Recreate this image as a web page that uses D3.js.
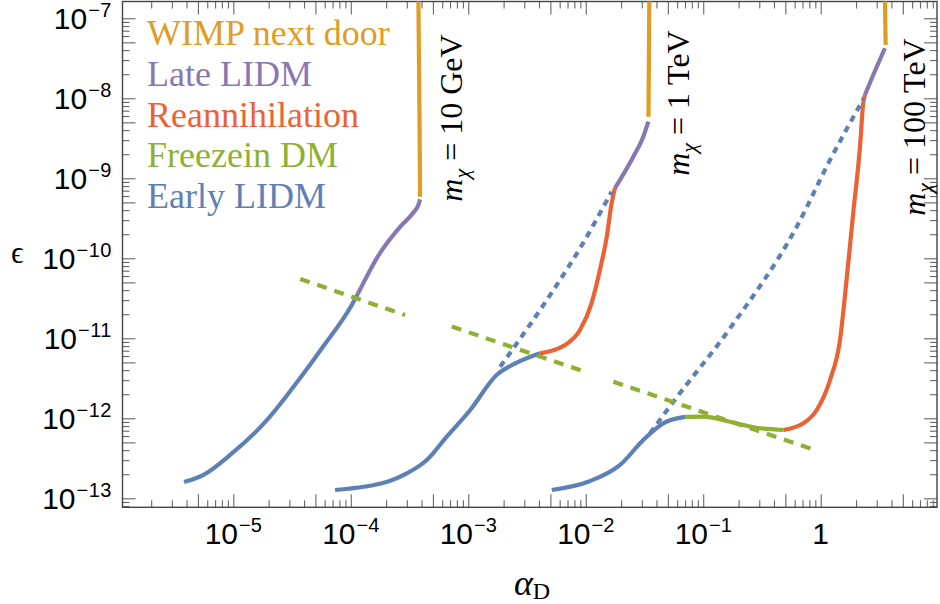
<!DOCTYPE html>
<html>
<head>
    <meta charset='UTF-8'>
    <title>Dark matter regimes</title>
    <script src='https://d3js.org/d3.v7.min.js'></script>
    <style>
        body { margin: 0; background: #fff; }
    </style>
</head>
<body>
<div id='graph'></div>
<script>
// regimes (legend order)
var regimeNames = ['WIMP next door', 'Late LIDM', 'Reannihilation', 'Freezein DM', 'Early LIDM'];
var regimeColors = ['#E19C24', '#8778B3', '#EB6235', '#8FB032', '#5E81B5'];

// m_chi = 10 GeV, points are [alpha_D, epsilon]
var gev10Early = [[3.81e-6, 1.60e-13], [5.53e-6, 1.95e-13], [9.40e-6, 3.48e-13], [1.94e-5, 9.53e-13],
                  [3.71e-5, 3.19e-12], [5.70e-5, 7.57e-12], [1.02e-4, 2.61e-11], [1.15e-4, 3.60e-11]];
var gev10Late = [[1.15e-4, 3.60e-11], [1.77e-4, 1.16e-10], [2.62e-4, 2.46e-10], [3.39e-4, 3.68e-10],
                 [3.76e-4, 4.63e-10], [3.89e-4, 5.46e-10]];
var gev10Wimp = [[3.89e-4, 5.87e-10], [3.85e-4, 5e-9], [3.76e-4, 2e-7]];
var gev10FreezeinLine = [[3.71e-5, 5.51e-11], [2.90e-4, 1.95e-11]];

// m_chi = 1 TeV
var tev1Early = [[7.35e-5, 1.27e-13], [2.05e-4, 1.61e-13], [3.00e-4, 2.05e-13], [4.44e-4, 3.01e-13],
                 [6.56e-4, 5.89e-13], [1.04e-3, 1.27e-12], [1.75e-3, 3.50e-12],
                 [2.59e-3, 4.95e-12], [4.08e-3, 6.49e-12]];
var tev1Reann = [[4.08e-3, 6.49e-12], [6.67e-3, 8.24e-12], [8.93e-3, 1.27e-11], [1.12e-2, 2.74e-11],
                 [1.32e-2, 7.14e-11], [1.51e-2, 1.86e-10], [1.66e-2, 4.86e-10], [1.77e-2, 7.50e-10]];
var tev1Late = [[1.77e-2, 7.50e-10], [2.54e-2, 1.86e-9], [3.09e-2, 3.31e-9], [3.41e-2, 5.09e-9]];
var tev1Wimp = [[3.42e-2, 5.89e-9], [3.48e-2, 2e-7]];
var tev1EarlyExtrap = [[1.87e-3, 4.42e-12], [5.66e-3, 4.63e-11], [8.93e-3, 1.33e-10], [1.66e-2, 6.79e-10]];
var tev1FreezeinLine = [[7.24e-4, 1.40e-11], [9.25e-3, 3.94e-12]];

// m_chi = 100 TeV
var tev100Early = [[5.14e-3, 1.27e-13], [1.05e-2, 1.61e-13], [1.96e-2, 2.61e-13], [3.09e-2, 5.36e-13],
                   [4.57e-2, 8.65e-13], [7.00e-2, 1.04e-12]];
var tev100Freezein = [[7.00e-2, 1.04e-12], [1.00e-1, 1.05e-12], [1.69e-1, 9.06e-13], [2.85e-1, 7.62e-13],
                      [4.81e-1, 7.14e-13]];
var tev100Reann = [[4.81e-1, 7.14e-13], [7.11e-1, 8.65e-13], [9.25e-1, 1.27e-12], [1.20, 3.01e-12],
                   [1.46, 9.53e-12], [1.66, 5.36e-11], [1.89, 3.65e-10], [2.16, 2.48e-9],
                   [2.30, 8.65e-9], [2.38, 1.10e-8]];
var tev100Late = [[2.38, 1.10e-8], [3.00, 2.48e-8], [3.52, 4.22e-8]];
var tev100Wimp = [[3.57, 4.63e-8], [3.52, 2e-7]];
var tev100EarlyExtrap = [[3.52e-2, 6.49e-13], [5.57e-2, 1.61e-12], [1.69e-1, 1.33e-11], [6.25e-1, 2.48e-10],
                         [1.20, 1.69e-9], [2.33, 1.0e-8]];
var tev100FreezeinLine = [[1.72e-2, 2.86e-12], [9.25e-1, 3.94e-13]];

var massLabels = ['10 GeV', '1 TeV', '100 TeV'];

// tick labels
var xTickVals = [1e-5, 1e-4, 1e-3, 1e-2, 1e-1, 1];
var xTickBase = ['10', '10', '10', '10', '10', '1'];
var xTickExp = ['\u22125', '\u22124', '\u22123', '\u22122', '\u22121', ''];
var yTickVals = [1e-13, 1e-12, 1e-11, 1e-10, 1e-9, 1e-8, 1e-7];
var yTickExp = ['\u221213', '\u221212', '\u221211', '\u221210', '\u22129', '\u22128', '\u22127'];

var W = 940, H = 604;
var frame = {left: 122.5, right: 937, top: 1.5, bottom: 507.3};

var x = d3.scaleLog().domain([1.14e-6, 9.77]).range([frame.left, frame.right]);
var y = d3.scaleLog().domain([7.72e-14, 1.62e-7]).range([frame.bottom, frame.top]);

var svg = d3.select('#graph').append('svg')
    .attr('width', W)
    .attr('height', H);

svg.append('clipPath').attr('id', 'plot-clip')
   .append('rect')
   .attr('x', frame.left).attr('y', frame.top)
   .attr('width', frame.right - frame.left).attr('height', frame.bottom - frame.top);

// log ticks: long at 1 and 5 of each decade, short elsewhere
function logTicks(scale, big) {
    var out = [];
    var dom = scale.domain();
    for (var e = Math.floor(Math.log10(dom[0])); e <= Math.ceil(Math.log10(dom[1])); e++) {
        for (var k = 1; k <= 9; k++) {
            var v = k * Math.pow(10, e);
            if (v < dom[0] || v > dom[1]) continue;
            if ((k === 1 || k === 5) === big) out.push(v);
        }
    }
    return out;
}

function tickAxis(axisFn, scale, vals, len, tx, ty) {
    svg.append('g')
       .attr('transform', 'translate(' + tx + ',' + ty + ')')
       .attr('color', '#666')
       .call(axisFn(scale).tickValues(vals).tickSize(len).tickFormat(''))
       .call(g => g.select('.domain').remove())
       .selectAll('line').attr('stroke-width', 1.1);
}

[true, false].forEach(function (big) {
    var len = big ? 13 : 7;
    tickAxis(d3.axisTop, x, logTicks(x, big), len, 0, frame.bottom);
    tickAxis(d3.axisBottom, x, logTicks(x, big), len, 0, frame.top);
    tickAxis(d3.axisRight, y, logTicks(y, big), len, frame.left, 0);
    tickAxis(d3.axisLeft, y, logTicks(y, big), len, frame.right, 0);
});

svg.append('rect')
   .attr('x', frame.left).attr('y', frame.top)
   .attr('width', frame.right - frame.left).attr('height', frame.bottom - frame.top)
   .attr('fill', 'none')
   .attr('stroke', '#444')
   .attr('stroke-width', 1.4);

// curves
var line = d3.line()
    .x(d => x(d[0]))
    .y(d => y(d[1]))
    .curve(d3.curveMonotoneX);
var straight = d3.line()
    .x(d => x(d[0]))
    .y(d => y(d[1]));

var solidSegs = [
    [gev10Early, 4], [gev10Late, 1], [gev10Wimp, 0],
    [tev1Early, 4], [tev1Reann, 2], [tev1Late, 1], [tev1Wimp, 0],
    [tev100Early, 4], [tev100Freezein, 3], [tev100Reann, 2], [tev100Late, 1], [tev100Wimp, 0]
];
var dottedSegs = [tev1EarlyExtrap, tev100EarlyExtrap];
var dashedSegs = [gev10FreezeinLine, tev1FreezeinLine, tev100FreezeinLine];

var plot = svg.append('g').attr('clip-path', 'url(#plot-clip)');

plot.selectAll('path.solid')
    .data(solidSegs)
    .enter()
    .append('path')
    .attr('class', 'solid')
    .attr('d', d => d[1] === 0 ? straight(d[0]) : line(d[0]))
    .attr('fill', 'none')
    .attr('stroke', d => regimeColors[d[1]])
    .attr('stroke-width', 4.2);

plot.selectAll('path.dotted')
    .data(dottedSegs)
    .enter()
    .append('path')
    .attr('class', 'dotted')
    .attr('d', d => line(d))
    .attr('fill', 'none')
    .attr('stroke', regimeColors[4])
    .attr('stroke-width', 4.2)
    .attr('stroke-dasharray', '6.5,5.5');

plot.selectAll('path.dashed')
    .data(dashedSegs)
    .enter()
    .append('path')
    .attr('class', 'dashed')
    .attr('d', d => line(d))
    .attr('fill', 'none')
    .attr('stroke', regimeColors[3])
    .attr('stroke-width', 4.2)
    .attr('stroke-dasharray', '10,8');

// tick labels
var xl = svg.selectAll('text.xlab')
    .data(xTickVals)
    .enter()
    .append('text')
    .attr('class', 'xlab')
    .attr('x', d => x(d))
    .attr('y', 544)
    .attr('text-anchor', 'middle')
    .style('font-family', 'Liberation Sans, Arial, sans-serif')
    .style('font-size', '30px');
xl.append('tspan').text((d, i) => xTickBase[i]);
xl.append('tspan').attr('dy', -12).attr('dx', 1).style('font-size', '20px').text((d, i) => xTickExp[i]);

var yl = svg.selectAll('text.ylab')
    .data(yTickVals)
    .enter()
    .append('text')
    .attr('class', 'ylab')
    .attr('x', 112)
    .attr('y', d => y(d) + 11)
    .attr('text-anchor', 'end')
    .style('font-family', 'Liberation Sans, Arial, sans-serif')
    .style('font-size', '30px');
yl.append('tspan').text('10');
yl.append('tspan').attr('dy', -12).attr('dx', 1).style('font-size', '20px')
  .style('letter-spacing', '0.5px').text((d, i) => yTickExp[i]);

// axis titles
svg.append('text')
   .attr('x', 11)
   .attr('y', 263)
   .style('font-family', 'Liberation Serif, DejaVu Serif, serif')
   .style('font-size', '31px')
   .text('\u03F5');

var xt = svg.append('text')
   .attr('x', 532)
   .attr('y', 595)
   .attr('text-anchor', 'middle')
   .style('font-family', 'Liberation Serif, serif')
   .style('font-size', '36px');
xt.append('tspan').style('font-style', 'italic').text('\u03B1');
xt.append('tspan').attr('dy', 4).style('font-size', '24px').text('D');

// legend
svg.selectAll('text.legend')
   .data(regimeNames)
   .enter()
   .append('text')
   .attr('class', 'legend')
   .attr('x', 147)
   .attr('y', (d, i) => 45 + i * 40.8)
   .attr('fill', (d, i) => regimeColors[i])
   .style('font-family', 'Liberation Serif, serif')
   .style('font-size', '36px')
   .text(d => d);

// mass labels, rotated
var massPos = [[462, 118], [689, 103], [925, 127]];
var ml = svg.selectAll('text.mass')
    .data(massLabels)
    .enter()
    .append('text')
    .attr('class', 'mass')
    .attr('transform', (d, i) => 'translate(' + massPos[i][0] + ',' + massPos[i][1] + ') rotate(-90)')
    .attr('text-anchor', 'middle')
    .style('font-family', 'Liberation Serif, serif')
    .style('font-size', '32px');
ml.append('tspan').style('font-style', 'italic').text('m');
ml.append('tspan').attr('dy', 7).style('font-style', 'italic').style('font-size', '22px').text('\u03C7');
ml.append('tspan').attr('dy', -7).text(d => ' = ' + d);
</script>
</body>
</html>
